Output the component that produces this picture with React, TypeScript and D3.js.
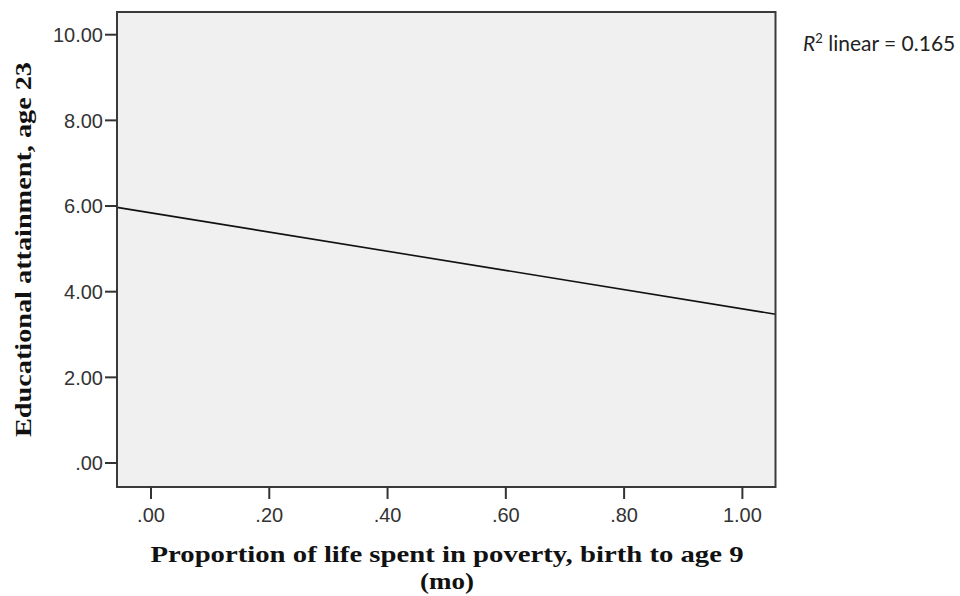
import React from "react";
import * as d3 from "d3";

const xTicks = [0, 0.2, 0.4, 0.6, 0.8, 1.0];
const xTickLabels = [".00", ".20", ".40", ".60", ".80", "1.00"];
const yTicks = [0, 2, 4, 6, 8, 10];
const yTickLabels = [".00", "2.00", "4.00", "6.00", "8.00", "10.00"];
const xDomain = [-0.0575, 1.056];
const yDomain = [-0.56, 10.53];
const fitIntercept = [5.84];
const fitSlope = [-2.24];
const xTitle = ["Proportion of life spent in poverty, birth to age 9", "(mo)"];
const yTitle = "Educational attainment, age 23";
const rSquared = "0.165";

export default function App() {
  const W = 960, H = 596;
  const left = 117, right = 775.5, top = 12, bottom = 487;
  const x = d3.scaleLinear().domain(xDomain).range([left, right]);
  const y = d3.scaleLinear().domain(yDomain).range([bottom, top]);
  const f = (v: number) => fitIntercept[0] + fitSlope[0] * v;
  const line = d3.line<number>().x((d) => x(d)).y((d) => y(f(d)));
  const tickFont = "'Liberation Sans', Arial, sans-serif";
  const titleFont = "'Liberation Serif', 'Times New Roman', serif";
  return (
    <svg width={W} height={H} style={{ position: "absolute", left: 0, top: 0, background: "#fff" }}>
      <rect x={left} y={top} width={right - left} height={bottom - top} fill="#f0f0f0" />
      <path d={line(xDomain) || ""} stroke="#111" strokeWidth={1.6} fill="none" />
      <rect x={left} y={top} width={right - left} height={bottom - top} fill="none" stroke="#3a3a3a" strokeWidth={2} />
      {yTicks.map((t, i) => (
        <g key={"y" + i}>
          <line x1={left - 12} x2={left} y1={y(t)} y2={y(t)} stroke="#333" strokeWidth={2} />
          <text x={left - 14} y={y(t)} dy="0.36em" textAnchor="end" fontFamily={tickFont} fontSize={20} fill="#333">
            {yTickLabels[i]}
          </text>
        </g>
      ))}
      {xTicks.map((t, i) => (
        <g key={"x" + i}>
          <line x1={x(t)} x2={x(t)} y1={bottom} y2={bottom + 12} stroke="#333" strokeWidth={2} />
          <text x={x(t)} y={bottom + 35} textAnchor="middle" fontFamily={tickFont} fontSize={20} fill="#333">
            {xTickLabels[i]}
          </text>
        </g>
      ))}
      <text x={447} y={562} textAnchor="middle" fontFamily={titleFont} fontWeight="bold" fontSize={24} fill="#111"
        textLength={593} lengthAdjust="spacingAndGlyphs">
        {xTitle[0]}
      </text>
      <text x={447} y={589} textAnchor="middle" fontFamily={titleFont} fontWeight="bold" fontSize={24} fill="#111"
        textLength={54} lengthAdjust="spacingAndGlyphs">
        {xTitle[1]}
      </text>
      <text
        transform={`translate(31, ${(top + bottom) / 2}) rotate(-90)`}
        textAnchor="middle"
        fontFamily={titleFont}
        fontWeight="bold"
        fontSize={24}
        fill="#111"
        textLength={375}
        lengthAdjust="spacingAndGlyphs"
      >
        {yTitle}
      </text>
      <text x={803} y={51} fontFamily="Lato, 'Open Sans', sans-serif" fontSize={21} fill="#222">
        <tspan fontStyle="italic">R</tspan>
        <tspan fontSize={13} dy={-8}>2</tspan>
        <tspan dy={8}>{` linear = ${rSquared}`}</tspan>
      </text>
    </svg>
  );
}
